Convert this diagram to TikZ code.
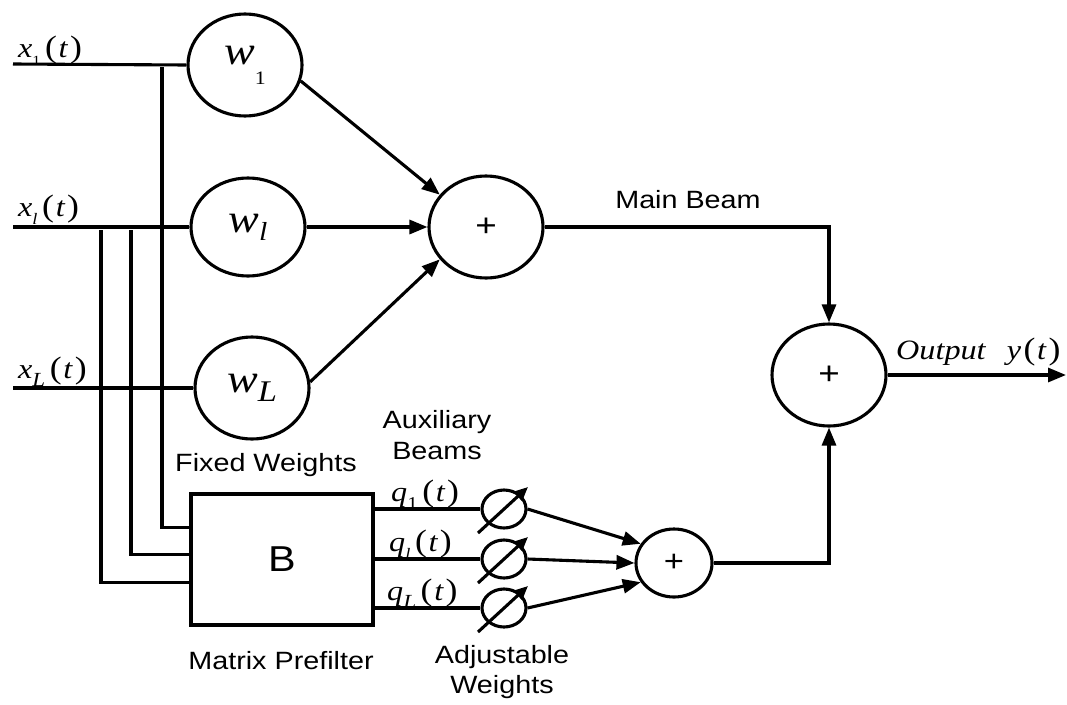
\documentclass[tikz,border=0pt]{standalone}
\usepackage{fontspec}
\setmainfont{Liberation Serif}
\setsansfont{Liberation Sans}
\usetikzlibrary{shapes.geometric,arrows.meta,calc}

% text is set slightly widened throughout
\newcommand\sx[1]{\scalebox{1.15}[1]{#1}}
\newcommand\fs[1]{\fontsize{#1}{#1}\selectfont}
% signal label: letter, subscript, then (t) with large parentheses
\newcommand\sig[2]{\sx{\fs{28}\textit{#1}\raisebox{-0.3em}{#2}\kern4pt{\fs{31}(}\kern1.5pt\textit{t}\kern1.5pt{\fs{31})}}}

\tikzset{
  wire/.style={line width=3.1pt},
  arr/.style={wire,-{Triangle[length=18pt,width=14pt]}},
  bigcirc/.style={draw,wire,ellipse,inner sep=0,minimum width=114pt,minimum height=102pt},
  adjcirc/.style={draw,wire,ellipse,inner sep=0,minimum width=44pt,minimum height=38pt},
  lbl/.style={inner sep=0,anchor=base,font=\sffamily\fs{25}},
  siglbl/.style={inner sep=0,anchor=base west}
}

\begin{document}
\begin{tikzpicture}[x=1pt,y=-1pt]
\useasboundingbox (0,0) rectangle (1067,704);

% fixed weights
\node[bigcirc] (w1) at (245,65) {\sx{\fs{40}\textit{w}\raisebox{-0.5em}{\fs{19}1}}};
\node[bigcirc,minimum height=98pt] (wl) at (248,227) {\sx{\fs{40}\textit{w}\raisebox{-0.2em}{\fs{26}\textit{l}}}};
\node[bigcirc] (wL) at (252,388) {\sx{\fs{40}\textit{w}\raisebox{-0.22em}{\fs{30}\textit{L}}}};

% summing junctions
\node[bigcirc] (s1) at (486,227) {\sx{\sffamily\fs{32}+}};
\node[bigcirc] (s3) at (829,375) {\sx{\sffamily\fs{32}+}};
\node[draw,wire,ellipse,inner sep=0,minimum width=76pt,minimum height=68pt] (s2) at (674,563) {\sx{\sffamily\fs{30}+}};

% matrix prefilter
\node[draw,wire,rectangle,minimum width=182pt,minimum height=131pt,inner sep=0] (B) at (282,559.5) {\sx{\sffamily\fs{36}B}};

% adjustable weights
\node[adjcirc] (a1) at (504,509) {};
\node[adjcirc] (a2) at (504,559) {};
\node[adjcirc] (a3) at (504,608) {};
\foreach \a in {a1,a2,a3}
  \draw[wire,-{Triangle[length=14pt,width=12pt]}] ($(\a)+(-26,24)$) -- ($(\a)+(24,-22)$);

% inputs
\coordinate (in1) at (13,64);
\coordinate (inl) at (13,227);
\coordinate (inL) at (13,388);
\draw[wire] (in1) -- (w1.west);
\draw[wire] (inl) -- (wl.west);
\draw[wire] (inL) -- (wL.west);

% taps feeding the prefilter
\coordinate (t1) at (162,67);
\coordinate (t2) at (131,230);
\coordinate (t3) at (101,230);
\draw[wire] (t1) |- ($(B.west)+(0,-32)$);
\draw[wire] (t2) |- ($(B.west)+(0,-5)$);
\draw[wire] (t3) |- ($(B.west)+(0,23)$);

% fixed weights into main sum
\draw[arr] (w1.-16) -- (s1.145);
\draw[arr] (wl.east) -- (s1.west);
\draw[arr] (wL.6) -- (s1.-145);

% prefilter outputs into adjustable weights
\draw[wire] (B.east |- a1) -- (a1.west);
\draw[wire] (B.east |- a2) -- (a2.west);
\draw[wire] (B.east |- a3) -- (a3.west);

% adjustable weights into auxiliary sum
\draw[arr] (a1.east) -- (s2.150);
\draw[arr] (a2.east) -- (s2.west);
\draw[arr] (a3.east) -- (s2.-150);

% main and auxiliary beams into output sum
\draw[arr] (s1.east) -| (s3.north);
\draw[arr] (s2.east) -| (s3.south);
\coordinate (out) at (1066,375);
\draw[arr] (s3.east) -- (out);

% signal labels
\node[siglbl] (lx1) at (18,57) {\sig{x}{\fs{14}1}};
\node[siglbl] (lxl) at (18,216) {\sig{x}{\fs{16}\textit{l}}};
\node[siglbl] (lxL) at (18,378) {\sig{x}{\fs{20}\textit{L}}};
\node[siglbl] (lq1) at (391,501) {\sig{q}{\fs{18}1}};
\node[siglbl] (lql) at (389,551) {\sig{q}{\fs{16}\textit{l}}};
\node[siglbl] (lqL) at (387,600) {\sig{q}{\fs{20}\textit{L}}};
\node[siglbl] (lout) at (896,359) {\sx{\fs{28}\textit{Output}\hspace{18pt}\textit{y}\kern2pt{\fs{31}(}\kern1.5pt\textit{t}\kern1.5pt{\fs{31})}}};

% text labels
\node[lbl] (lmain) at (688,208) {\sx{Main Beam}};
\node[lbl] (lfix) at (266,471) {\sx{Fixed Weights}};
\node[lbl] (laux1) at (437,428) {\sx{Auxiliary}};
\node[lbl] (laux2) at (437,459) {\sx{Beams}};
\node[lbl] (lmat) at (281,669) {\sx{Matrix Prefilter}};
\node[lbl] (ladj1) at (502,663) {\sx{Adjustable}};
\node[lbl] (ladj2) at (502,693) {\sx{Weights}};
\end{tikzpicture}
\end{document}
